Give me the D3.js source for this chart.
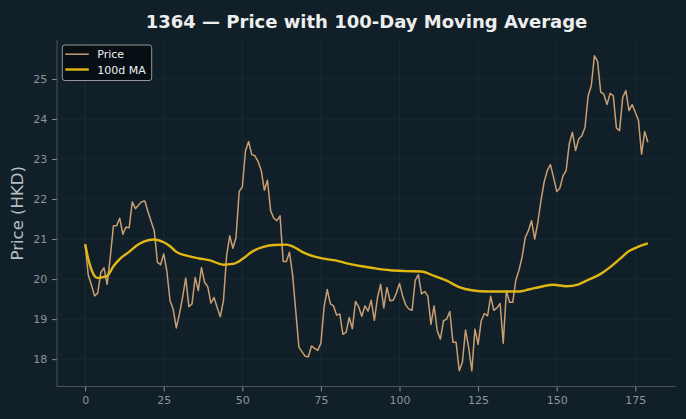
<!DOCTYPE html>
<html>
<head>
<meta charset="utf-8">
<script src="https://cdn.jsdelivr.net/npm/d3@7"></script>
<style>
  body { margin: 0; background: #112028; }
  svg { display: block; font-family: "DejaVu Sans", sans-serif; }
</style>
</head>
<body>
<svg id="chart"></svg>
<script>
// Chart size
const width = 686;
const height = 419;
const margin = { top: 40, right: 10, bottom: 32.5, left: 57 };

// Price, one value per trading day
const price = [
  20.87, 20.1, 19.85, 19.58, 19.65, 20.17, 20.28, 19.87, 20.55, 21.33,
  21.33, 21.52, 21.12, 21.3, 21.28, 21.93, 21.76, 21.85, 21.93, 21.95,
  21.68, 21.44, 21.2, 20.42, 20.36, 20.63, 20.2, 19.46, 19.25, 18.78,
  19.13, 19.54, 20.03, 19.31, 19.38, 20.04, 19.71, 20.29, 19.92, 19.81,
  19.4, 19.54, 19.29, 19.06, 19.46, 20.58, 21.08, 20.77, 21.04, 22.19,
  22.3, 23.2, 23.44, 23.11, 23.08, 22.94, 22.72, 22.22, 22.47, 21.71,
  21.52, 21.46, 21.58, 20.44, 20.44, 20.67, 20.1, 19.2, 18.3, 18.18,
  18.07, 18.06, 18.33, 18.27, 18.22, 18.4, 19.3, 19.74, 19.38, 19.33,
  19.1, 19.13, 18.62, 18.67, 19.04, 18.76, 19.44, 19.31, 19.07, 19.33,
  19.2, 19.47, 18.97, 19.54, 19.87, 19.28, 19.79, 19.46, 19.47, 19.65,
  19.89, 19.58, 19.35, 19.25, 19.22, 19.97, 20.11, 19.63, 19.69, 19.58,
  18.87, 19.33, 18.71, 18.5, 18.96, 19.0, 19.19, 18.42, 18.42, 17.71,
  17.92, 18.73, 18.29, 17.71, 18.75, 18.37, 18.96, 19.14, 19.08, 19.57,
  19.22, 19.28, 19.39, 18.4, 19.71, 19.42, 19.42, 19.97, 20.22, 20.55,
  21.04, 21.21, 21.46, 21.0, 21.42, 21.96, 22.42, 22.71, 22.86, 22.54,
  22.19, 22.27, 22.58, 22.71, 23.38, 23.67, 23.21, 23.5, 23.58, 23.79,
  24.58, 24.83, 25.58, 25.44, 24.67, 24.62, 24.36, 24.64, 24.58, 23.77,
  23.71, 24.54, 24.71, 24.21, 24.36, 24.17, 23.97, 23.12, 23.69, 23.42
];

// 100-day moving average at these days
const maDays = [0, 1, 2, 3, 4, 5, 7, 9, 11, 14, 17, 20, 22, 25, 27, 29, 32, 36, 40, 44,
  47, 50, 53, 57, 60, 64, 66, 69, 73, 76, 80, 84, 88, 92, 97, 102, 107, 111, 115, 119,
  123, 128, 132, 138, 141, 145, 149, 153, 157, 160, 164, 167, 170, 173, 176, 179];
const maValues = [20.87, 20.5, 20.24, 20.08, 20.03, 20.04, 20.08, 20.32, 20.5, 20.68,
  20.87, 20.97, 20.99, 20.92, 20.82, 20.68, 20.59, 20.52, 20.46, 20.36,
  20.38, 20.5, 20.68, 20.81, 20.85, 20.86, 20.82, 20.68, 20.56, 20.51,
  20.46, 20.38, 20.32, 20.27, 20.22, 20.2, 20.19, 20.08, 19.96, 19.8,
  19.72, 19.69, 19.69, 19.69, 19.74, 19.81, 19.86, 19.82, 19.87, 19.98,
  20.13, 20.3, 20.5, 20.7, 20.81, 20.89];

const xTicks = [0, 25, 50, 75, 100, 125, 150, 175];
const yTicks = [18, 19, 20, 21, 22, 23, 24, 25];

const priceColor = "#c99e72";
const maColor = "#e2b714";

const svg = d3.select("#chart")
    .attr("width", width)
    .attr("height", height);

svg.append("rect")
    .attr("width", width)
    .attr("height", height)
    .attr("fill", "#112028");

// Scales with matplotlib-like 5% padding
const xPad = (price.length - 1) * 0.05;
const x = d3.scaleLinear()
    .domain([-xPad, price.length - 1 + xPad])
    .range([margin.left, width - margin.right]);

const yMin = d3.min(price), yMax = d3.max(price);
const yPad = (yMax - yMin) * 0.05;
const y = d3.scaleLinear()
    .domain([yMin - yPad, yMax + yPad])
    .range([height - margin.bottom, margin.top]);

// Grid
const grid = svg.append("g").attr("stroke", "#1c2c34").attr("stroke-width", 0.8);
grid.selectAll(".gx").data(xTicks).enter().append("line")
    .attr("x1", d => x(d)).attr("x2", d => x(d))
    .attr("y1", margin.top).attr("y2", height - margin.bottom);
grid.selectAll(".gy").data(yTicks).enter().append("line")
    .attr("x1", margin.left).attr("x2", width - margin.right)
    .attr("y1", d => y(d)).attr("y2", d => y(d));

// Axes
const xAxis = svg.append("g")
    .attr("transform", `translate(0,${height - margin.bottom})`)
    .call(d3.axisBottom(x).tickValues(xTicks).tickSize(4.9).tickPadding(4.9).tickSizeOuter(0));
const yAxis = svg.append("g")
    .attr("transform", `translate(${margin.left},0)`)
    .call(d3.axisLeft(y).tickValues(yTicks).tickSize(4.9).tickPadding(4.9).tickSizeOuter(0));

[xAxis, yAxis].forEach(g => {
  g.select(".domain").remove();
  g.selectAll(".tick line").attr("stroke", "#8a8f92");
  g.selectAll(".tick text")
      .attr("fill", "#8e9498")
      .style("font-size", "11px")
      .style("font-family", "DejaVu Sans, sans-serif");
});

// Spines (left and bottom only)
svg.append("line")
    .attr("x1", margin.left).attr("x2", margin.left)
    .attr("y1", margin.top).attr("y2", height - margin.bottom)
    .attr("stroke", "#4a5358");
svg.append("line")
    .attr("x1", margin.left).attr("x2", width - margin.right)
    .attr("y1", height - margin.bottom).attr("y2", height - margin.bottom)
    .attr("stroke", "#4a5358");

// Lines
const priceLine = d3.line()
    .x((d, i) => x(i))
    .y(d => y(d));

svg.append("path")
    .datum(price)
    .attr("d", priceLine)
    .attr("fill", "none")
    .attr("stroke", priceColor)
    .attr("stroke-width", 1.5)
    .attr("stroke-linejoin", "round");

const maLine = d3.line()
    .x(d => x(d[0]))
    .y(d => y(d[1]))
    .curve(d3.curveMonotoneX);

svg.append("path")
    .datum(d3.zip(maDays, maValues))
    .attr("d", maLine)
    .attr("fill", "none")
    .attr("stroke", maColor)
    .attr("stroke-width", 2.4)
    .attr("stroke-linejoin", "round");

// Title
svg.append("text")
    .attr("x", (margin.left + width - margin.right) / 2)
    .attr("y", 28)
    .attr("text-anchor", "middle")
    .attr("fill", "#eeeeee")
    .style("font-size", "18px")
    .style("font-weight", "bold")
    .text("1364 \u2014 Price with 100-Day Moving Average");

// Y label
svg.append("text")
    .attr("transform", `translate(22.5,${(margin.top + height - margin.bottom) / 2}) rotate(-90)`)
    .attr("text-anchor", "middle")
    .attr("fill", "#b8bec2")
    .style("font-size", "16.5px")
    .text("Price (HKD)");

// Legend
const legend = svg.append("g").attr("transform", "translate(62.3,45)");
legend.append("rect")
    .attr("width", 89.4).attr("height", 35.5).attr("rx", 2.5)
    .attr("fill", "#070d10").attr("fill-opacity", 0.85)
    .attr("stroke", "#b9b9b9").attr("stroke-width", 0.8);
const items = [["Price", priceColor, 1.5], ["100d MA", maColor, 2.4]];
items.forEach((it, k) => {
  const yy = 9.2 + k * 15.3;
  legend.append("line")
      .attr("x1", 3).attr("x2", 26.5).attr("y1", yy).attr("y2", yy)
      .attr("stroke", it[1]).attr("stroke-width", it[2]);
  legend.append("text")
      .attr("x", 35).attr("y", yy + 4)
      .attr("fill", "#eeeeee")
      .style("font-size", "11px")
      .text(it[0]);
});
</script>
</body>
</html>
